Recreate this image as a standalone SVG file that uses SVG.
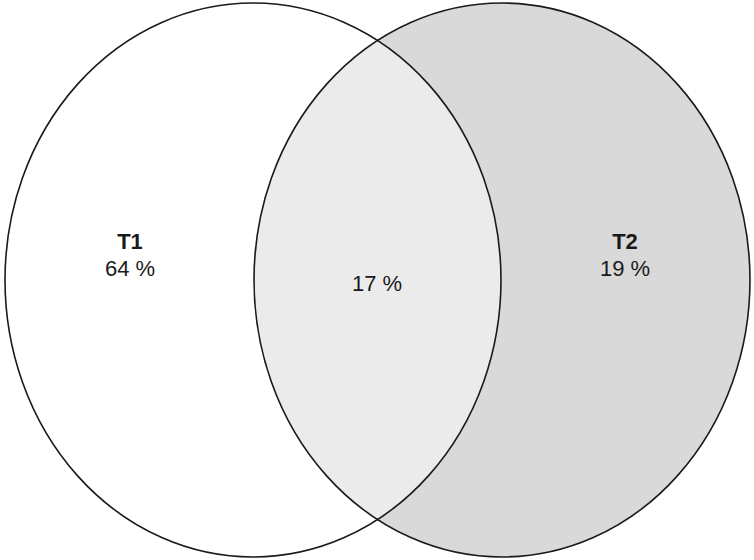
<svg xmlns="http://www.w3.org/2000/svg" width="754" height="560" viewBox="0 0 754 560">
<style>
.c{stroke:#1a1a1a;stroke-width:1.6}
.t{font-family:"Liberation Sans",Arial,sans-serif;font-size:22px;fill:#1a1a1a;text-anchor:middle}
.b{font-weight:bold}
</style>
<defs>
<clipPath id="clipL"><ellipse cx="253" cy="280" rx="248" ry="277"/></clipPath>
</defs>
<rect width="754" height="560" fill="#ffffff"/>
<g id="T2">
<ellipse cx="502" cy="280" rx="248" ry="277" fill="#d9d9d9"/>
</g>
<g id="intersection">
<ellipse cx="502" cy="280" rx="248" ry="277" fill="#ebebeb" clip-path="url(#clipL)"/>
</g>
<g id="outlines">
<ellipse class="c" cx="253" cy="280" rx="248" ry="277" fill="none"/>
<ellipse class="c" cx="502" cy="280" rx="248" ry="277" fill="none"/>
</g>
<g id="labels">
<text class="t b" x="130" y="249">T1</text>
<text class="t" x="130" y="276">64 %</text>
<text class="t b" x="625" y="249">T2</text>
<text class="t" x="625" y="276">19 %</text>
<text class="t" x="377" y="291">17 %</text>
</g>
</svg>
